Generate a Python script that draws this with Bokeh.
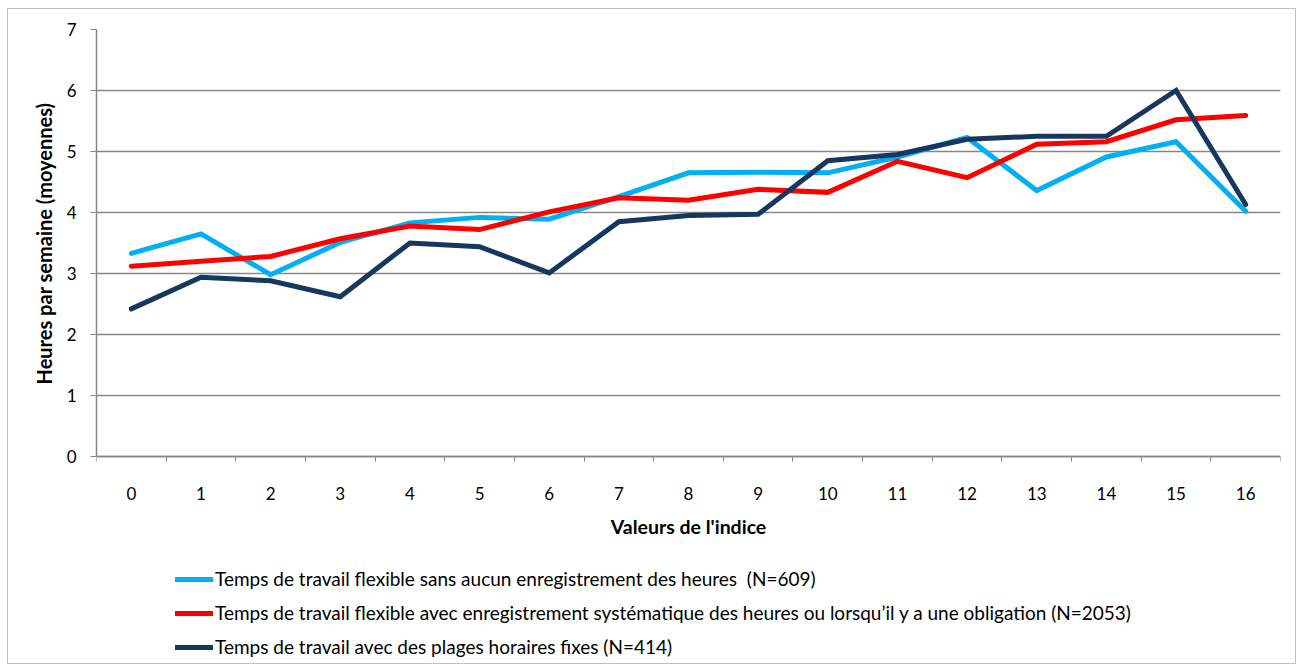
from bokeh.plotting import figure
from bokeh.models import Range1d, FixedTicker, Legend, LegendItem, Title
from bokeh.embed import file_html
from bokeh.resources import INLINE

# ---- data ----
indice = list(range(17))
tick_labels = [str(i) for i in indice]
sans_enregistrement = [3.33, 3.65, 2.98, 3.51, 3.83, 3.92, 3.89, 4.26, 4.65, 4.66,
                       4.65, 4.91, 5.23, 4.36, 4.91, 5.16, 4.02]
avec_enregistrement = [3.12, 3.20, 3.28, 3.57, 3.78, 3.72, 4.01, 4.24, 4.20, 4.38,
                       4.33, 4.84, 4.57, 5.12, 5.16, 5.52, 5.59]
plages_fixes = [2.42, 2.94, 2.88, 2.62, 3.50, 3.44, 3.01, 3.85, 3.95, 3.97,
                4.85, 4.95, 5.20, 5.25, 5.25, 6.00, 4.13]
series_names = [
    "Temps de travail flexible sans aucun enregistrement des heures  (N=609)",
    "Temps de travail flexible avec enregistrement systématique des heures ou lorsqu\u2019il y a une obligation (N=2053)",
    "Temps de travail avec des plages horaires fixes (N=414)",
]
series_colors = ["#00B0F0", "#FF0000", "#17375E"]
y_ticks = [0, 1, 2, 3, 4, 5, 6, 7]
x_title = "Valeurs de l'indice"
y_title = "Heures par semaine (moyennes)"

FONT = "Lato"
GRID = "#868686"

# layout (pixels)
W, H = 1289, 656
TOP, LEFT, RIGHT = 20, 88, 17
AXIS_Y = 447              # pixel row of value 0
PX_PER_UNIT = (AXIS_Y - TOP) / 7.0
y_bottom = -(H - AXIS_Y) / PX_PER_UNIT

p = figure(width=W, height=H, output_backend="svg", toolbar_location=None,
           x_range=Range1d(-0.5, 16.5), y_range=Range1d(y_bottom, 7),
           min_border_left=LEFT, min_border_right=RIGHT, min_border_top=TOP,
           min_border_bottom=0)
p.styles = {"margin-left": "7px", "margin-top": "8px",
            "border": "1px solid #BFBFBF"}
p.outline_line_color = None
p.background_fill_color = "white"
p.border_fill_color = "white"

# x axis (drawn at value 0)
p.xaxis.fixed_location = 0
p.xaxis.ticker = FixedTicker(ticks=indice, minor_ticks=[i - 0.5 for i in range(18)])
p.xaxis.major_label_overrides = {i: l for i, l in zip(indice, tick_labels)}
p.xaxis.major_tick_out = 0
p.xaxis.major_tick_in = 0
p.xaxis.minor_tick_out = 5
p.xaxis.minor_tick_in = 0
p.xaxis.minor_tick_line_color = GRID
p.xaxis.axis_line_color = GRID
p.xaxis.axis_line_width = 1.5
p.xaxis.major_label_standoff = 25
p.xaxis.major_label_text_font = FONT
p.xaxis.major_label_text_font_size = "17px"
p.xaxis.major_label_text_color = "black"
p.xaxis.axis_label = x_title
p.xaxis.axis_label_text_font = FONT
p.xaxis.axis_label_text_font_size = "19.5px"
p.xaxis.axis_label_text_font_style = "bold"
p.xaxis.axis_label_text_color = "black"
p.xaxis.axis_label_standoff = 12

# y axis
p.yaxis.bounds = (0, 7)
p.yaxis.ticker = FixedTicker(ticks=y_ticks)
p.yaxis.major_tick_out = 6
p.yaxis.major_tick_in = 0
p.yaxis.minor_tick_out = 0
p.yaxis.minor_tick_in = 0
p.yaxis.major_tick_line_color = GRID
p.yaxis.axis_line_color = GRID
p.yaxis.axis_line_width = 1.5
p.yaxis.major_label_standoff = 14
p.yaxis.major_label_text_font = FONT
p.yaxis.major_label_text_font_size = "17px"
p.yaxis.major_label_text_color = "black"

# y axis title, centred on the 0..7 part of the axis
p.add_layout(Title(text=y_title, align="right", offset=73, standoff=16,
                   text_font=FONT, text_font_size="20px", text_font_style="bold",
                   text_color="black"), "left")

p.xgrid.grid_line_color = None
p.ygrid.grid_line_color = GRID
p.ygrid.grid_line_width = 1.3

items = []
for vals, name, col in zip([sans_enregistrement, avec_enregistrement, plages_fixes],
                           series_names, series_colors):
    r = p.line(indice, vals, line_color=col, line_width=5, line_cap="round",
               line_join="miter")
    items.append(LegendItem(label=name, renderers=[r]))

legend = Legend(items=items, location=(79, 7), orientation="vertical",
                glyph_width=38, glyph_height=16, label_height=16, spacing=11,
                label_standoff=2, padding=0, margin=0,
                border_line_color=None, background_fill_alpha=0,
                label_text_font=FONT, label_text_font_size="19px",
                label_text_color="black")
p.add_layout(legend, "center")

open("out.html", "w").write(file_html(p, INLINE))
